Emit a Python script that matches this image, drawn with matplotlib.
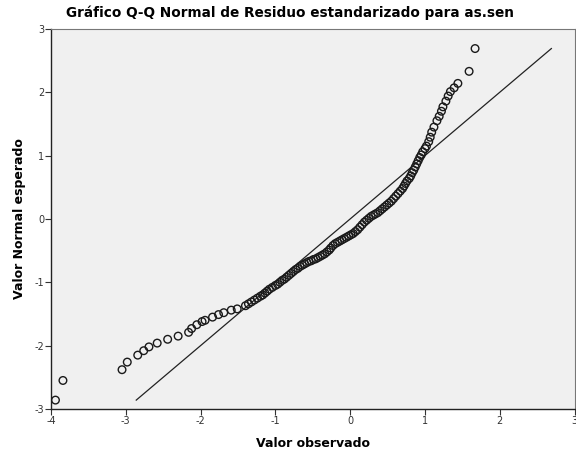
import matplotlib
matplotlib.use("Agg")
import matplotlib.pyplot as plt

# valores: observado (x) y normal esperado (y)
observado = [-3.94, -3.84, -3.05, -2.98, -2.84, -2.76, -2.69, -2.58, -2.44, -2.30,
             -2.16, -2.12, -2.05, -1.98, -1.94, -1.84, -1.76, -1.69, -1.59, -1.51,
             -1.40, -1.36, -1.32, -1.28, -1.24, -1.20, -1.17, -1.14, -1.11, -1.08,
             -1.04, -1.00, -0.97, -0.94, -0.91, -0.88, -0.85, -0.82, -0.79, -0.76,
             -0.73, -0.70, -0.67, -0.64, -0.61, -0.58, -0.55, -0.52, -0.49, -0.46,
             -0.43, -0.40, -0.37, -0.34, -0.31, -0.28, -0.26, -0.23, -0.20, -0.17,
             -0.14, -0.11, -0.08, -0.05, -0.02, 0.01, 0.04, 0.07, 0.10, 0.13,
             0.16, 0.19, 0.22, 0.25, 0.28, 0.31, 0.34, 0.37, 0.40, 0.43,
             0.46, 0.49, 0.52, 0.55, 0.58, 0.61, 0.64, 0.67, 0.70, 0.72,
             0.74, 0.76, 0.79, 0.81, 0.83, 0.85, 0.87, 0.89, 0.91, 0.93,
             0.95, 0.97, 1.00, 1.02, 1.05, 1.07, 1.09, 1.12, 1.16, 1.19,
             1.22, 1.24, 1.28, 1.31, 1.34, 1.39, 1.44, 1.59, 1.67]
esperado = [-2.86, -2.55, -2.38, -2.26, -2.15, -2.08, -2.02, -1.96, -1.90, -1.85,
            -1.79, -1.73, -1.67, -1.62, -1.60, -1.55, -1.51, -1.48, -1.44, -1.42,
            -1.37, -1.34, -1.31, -1.28, -1.25, -1.22, -1.20, -1.17, -1.14, -1.11,
            -1.08, -1.05, -1.03, -1.00, -0.97, -0.95, -0.92, -0.89, -0.86, -0.83,
            -0.80, -0.78, -0.75, -0.73, -0.71, -0.69, -0.67, -0.66, -0.64, -0.63,
            -0.61, -0.59, -0.57, -0.55, -0.52, -0.49, -0.46, -0.42, -0.39, -0.37,
            -0.35, -0.33, -0.31, -0.29, -0.27, -0.25, -0.23, -0.20, -0.17, -0.13,
            -0.09, -0.05, -0.02, 0.01, 0.04, 0.06, 0.08, 0.10, 0.13, 0.16,
            0.19, 0.22, 0.25, 0.28, 0.32, 0.36, 0.40, 0.44, 0.48, 0.52,
            0.56, 0.60, 0.64, 0.68, 0.73, 0.77, 0.82, 0.87, 0.92, 0.97,
            1.01, 1.06, 1.11, 1.15, 1.22, 1.29, 1.37, 1.45, 1.55, 1.62,
            1.70, 1.77, 1.86, 1.94, 2.01, 2.07, 2.14, 2.33, 2.69]

xticks = [-4, -3, -2, -1, 0, 1, 2, 3]
yticks = [-3, -2, -1, 0, 1, 2, 3]

plt.rcParams['axes.unicode_minus'] = False
plt.rcParams['font.family'] = 'DejaVu Sans'

fig = plt.figure(figsize=(5.76, 4.59), dpi=100)
ax = fig.add_axes([0.0885, 0.109, 0.909, 0.828])
ax.set_facecolor('#f0f0f0')

# linea de referencia y = x entre el minimo y maximo esperado
lo = min(esperado)
hi = max(esperado)
ax.plot([lo, hi], [lo, hi], color='#222222', linewidth=0.9, zorder=2)

ax.scatter(observado, esperado, s=30, facecolors='none', edgecolors='#1a1a1a',
           linewidths=1.0, zorder=3)

ax.set_xlim(-4, 3)
ax.set_ylim(-3, 3)
ax.set_xticks(xticks)
ax.set_yticks(yticks)
ax.tick_params(labelsize=7, length=4, width=0.8, colors='#333333', pad=1)

for s in ['left', 'bottom']:
    ax.spines[s].set_color('#222222')
    ax.spines[s].set_linewidth(1.0)
for s in ['top', 'right']:
    ax.spines[s].set_color('#777777')
    ax.spines[s].set_linewidth(0.8)

ax.set_xlabel('Valor observado', fontsize=9, fontweight='bold', labelpad=8)
ax.set_ylabel('Valor Normal esperado', fontsize=9, fontweight='bold', labelpad=6)
fig.text(0.503, 0.972, 'Gráfico Q-Q Normal de Residuo estandarizado para as.sen',
         ha='center', va='center', fontsize=9.8, fontweight='bold')

fig.savefig('out.png', dpi=100)
